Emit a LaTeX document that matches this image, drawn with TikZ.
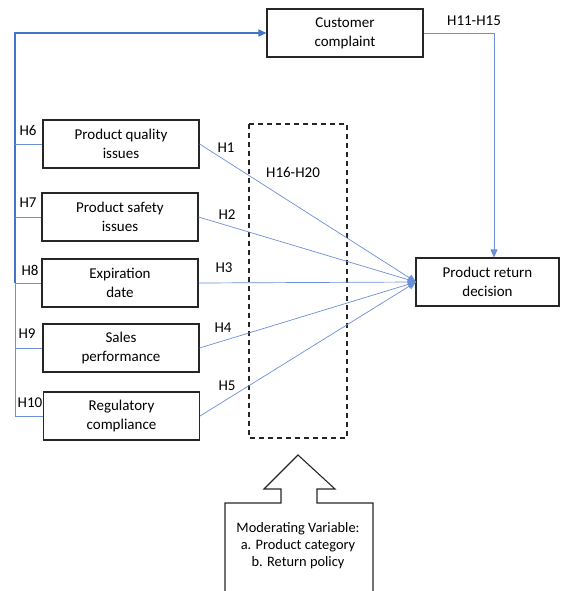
\documentclass[tikz,border=0pt]{standalone}
\usepackage{fontspec}
\setmainfont{Carlito}
\usetikzlibrary{arrows.meta}
\definecolor{lblue}{HTML}{4472C4}
\definecolor{tblue}{HTML}{6A8FD6}
\begin{document}
\begin{tikzpicture}[x=1pt,y=-1pt,
  box/.style={draw=black!85,line width=1.1pt,minimum width=156pt,minimum height=48pt,align=center,font=\fontsize{15}{19}\selectfont,inner sep=1pt},
  lab/.style={font=\fontsize{15}{18}\selectfont,inner sep=0pt},
  thin/.style={draw=tblue,line width=0.7pt},
  thick/.style={draw=lblue,line width=1.5pt},
  tip/.style={-{Triangle[length=8pt,width=7pt]}}]
\useasboundingbox (0,0) rectangle (563,591);
% boxes
\node[box] (cc) at (345,33) {Customer\\complaint};
\node[box,minimum width=143pt] (prd) at (487.5,282) {Product return\\decision};
\node[box] (b1) at (121,144) {Product quality\\issues};
\node[box] (b2) at (120,217) {Product safety\\issues};
\node[box] (b3) at (120,283) {Expiration\\date};
\node[box] (b4) at (121,348) {Sales\\performance};
\node[box] (b5) at (121.5,416) {Regulatory\\compliance};
% dashed moderating box
\draw[black!85,line width=1.1pt,dash pattern=on 5pt off 4pt] (249,124) rectangle (347,438);
% left bus
\coordinate (top) at (15,33);
\coordinate (v3) at (15,283);
\draw[thick,tip] (v3) -- (top) -- (cc.west);
\coordinate (v1) at (15,144);
\coordinate (v2) at (15,217);
\coordinate (v4) at (15,348);
\coordinate (v5) at (15,416);
\draw[thin] (v3) -- (v5) -- (b5.west);
\draw[thin] (v1) -- (b1.west);
\draw[thin] (v2) -- (b2.west);
\draw[thin] (v3) -- (b3.west);
\draw[thin] (v4) -- (b4.west);
\node[lab] at (28,130) {H6};
\node[lab] at (28,203) {H7};
\node[lab] at (30,270) {H8};
\node[lab] at (27,334) {H9};
\node[lab] at (30,403) {H10};
% paths to decision
\coordinate (tgt) at (416,282);
\foreach \b in {b1,b2,b3,b4,b5}{\draw[thin,tip] (\b.east) -- (tgt);}
\node[lab] at (226,148) {H1};
\node[lab] at (227,215) {H2};
\node[lab] at (224,268) {H3};
\node[lab] at (223,328) {H4};
\node[lab] at (227,386) {H5};
\node[lab] at (293,172) {H16-H20};
% complaint to decision
\coordinate (cr) at (494,33);
\draw[thin,tip] (cc.east) -- (cr) -- (prd.north -| cr);
\node[lab] at (474,21) {H11-H15};
% callout arrow
\draw[black!85,line width=1.1pt] (225,591) -- (225,503) -- (281,503) -- (281,489) -- (264,489) -- (298,455) -- (335,489) -- (317,489) -- (317,503) -- (373,503) -- (373,591);
\node[lab,align=center,font=\fontsize{14.4}{17}\selectfont] (mv) at (298,546) {Moderating Variable:\\a. Product category\\b. Return policy};
\end{tikzpicture}
\end{document}
